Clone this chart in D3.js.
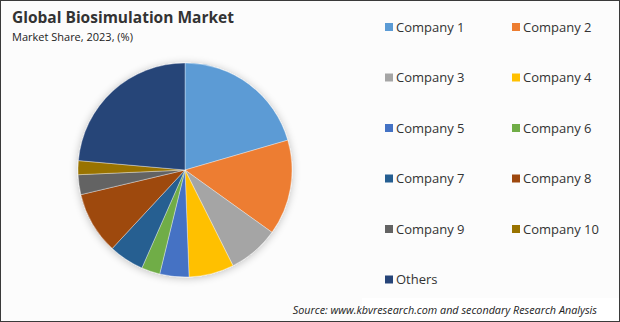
<!DOCTYPE html>
<html>
<head>
<meta charset="utf-8">
<script src="https://cdn.jsdelivr.net/npm/d3@7"></script>
<style>
  body { margin: 0; background: #fff; }
  svg { display: block; font-family: "Open Sans", "Noto Sans", sans-serif; }
</style>
</head>
<body>
<div class="chart"></div>
<script>
var width = 620, height = 322;

// values (%)
var companies = ["Company 1", "Company 2", "Company 3", "Company 4", "Company 5", "Company 6",
                 "Company 7", "Company 8", "Company 9", "Company 10", "Others"];
var shares = [20.5, 14.4, 7.7, 6.8, 4.4, 2.8, 5.3, 9.4, 3.0, 2.1, 23.6];
var colors = ["#5B9BD5", "#ED7D31", "#A5A5A5", "#FFC000", "#4472C4", "#70AD47",
              "#255E91", "#9E480E", "#636363", "#997300", "#264478"];

var data = companies.map(function(c, i) { return {name: c, value: shares[i]}; });

var svg = d3.select(".chart").append("svg")
    .attr("width", width)
    .attr("height", height);

var defs = svg.append("defs");
var shadow = defs.append("filter").attr("id", "shadow")
    .attr("x", "-20%").attr("y", "-20%").attr("width", "140%").attr("height", "140%");
shadow.append("feGaussianBlur").attr("in", "SourceAlpha").attr("stdDeviation", 4);
shadow.append("feOffset").attr("dx", 0).attr("dy", 1).attr("result", "blur");
shadow.append("feComponentTransfer").append("feFuncA").attr("type", "linear").attr("slope", 0.25);
var merge = shadow.append("feMerge");
merge.append("feMergeNode");
merge.append("feMergeNode").attr("in", "SourceGraphic");

// background + frame
svg.append("rect")
    .attr("x", 0.5).attr("y", 0.5)
    .attr("width", width - 1).attr("height", height - 1)
    .attr("fill", "#fcfcfc")
    .attr("stroke", "#3a3a3a")
    .attr("stroke-width", 1);

svg.append("rect")
    .attr("x", 362).attr("y", 298)
    .attr("width", width - 363).attr("height", 23)
    .attr("fill", "#ffffff");

/************* Titles ***************/
svg.append("text")
    .attr("x", 12).attr("y", 23)
    .attr("font-size", 15.5)
    .attr("font-weight", "bold")
    .attr("fill", "#333")
    .text("Global Biosimulation Market");

svg.append("text")
    .attr("x", 12).attr("y", 41)
    .attr("font-size", 11)
    .attr("fill", "#222")
    .text("Market Share, 2023, (%)");

/************* Pie ***************/
var cx = 185, cy = 170, radius = 107;

var pie = d3.pie()
    .value(function(d) { return d.value; })
    .sort(null);

var arc = d3.arc()
    .innerRadius(0)
    .outerRadius(radius);

var pieGroup = svg.append("g")
    .attr("transform", "translate(" + cx + "," + cy + ")")
    .attr("filter", "url(#shadow)");

pieGroup.selectAll("path")
    .data(pie(data))
    .enter().append("path")
        .attr("d", arc)
        .attr("fill", function(d, i) { return colors[i]; })
        .attr("stroke", "#ffffff")
        .attr("stroke-opacity", 0.6)
        .attr("stroke-width", 0.6);

/************* Legend ***************/
var legend = svg.append("g").attr("class", "legend");

var items = legend.selectAll("g")
    .data(data)
    .enter().append("g")
        .attr("transform", function(d, i) {
            var col = i % 2, row = Math.floor(i / 2);
            return "translate(" + (385 + col * 127) + "," + (27 + row * 50.5) + ")";
        });

items.append("rect")
    .attr("x", 0).attr("y", -4)
    .attr("width", 8).attr("height", 8)
    .attr("fill", function(d, i) { return colors[i]; });

items.append("text")
    .attr("x", 11).attr("y", 4.5)
    .attr("font-size", 13)
    .attr("fill", "#333")
    .text(function(d) { return d.name; });

/************* Source ***************/
svg.append("text")
    .attr("x", 597).attr("y", 314)
    .attr("text-anchor", "end")
    .attr("font-size", 10.8)
    .attr("font-style", "italic")
    .attr("fill", "#222")
    .text("Source: www.kbvresearch.com and secondary Research Analysis");
</script>
</body>
</html>
